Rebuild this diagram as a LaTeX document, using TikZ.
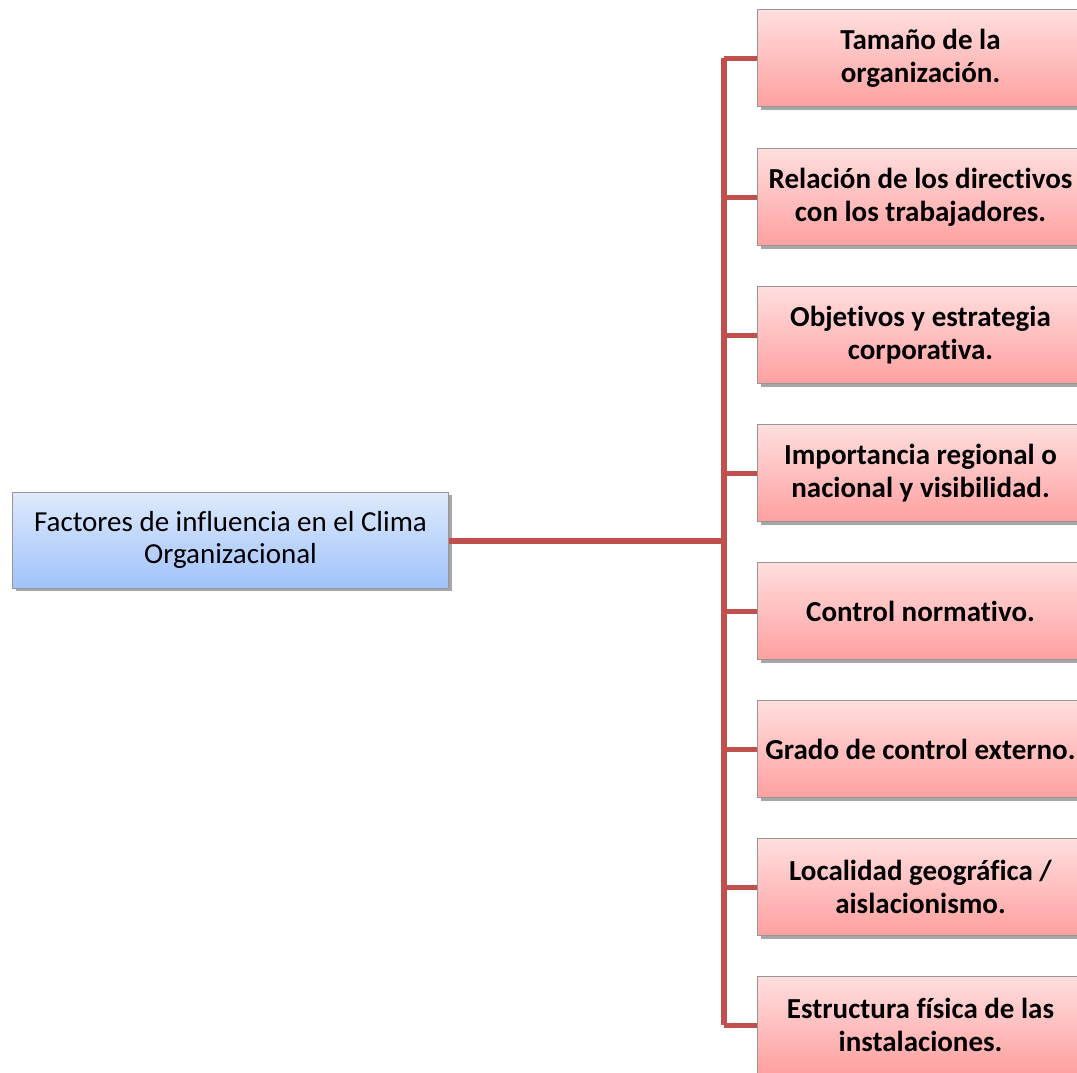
\documentclass[tikz,border=0pt]{standalone}
\usepackage{fontspec}
\setmainfont{Carlito}[Ligatures=NoCommon]
\usetikzlibrary{shadows}
\definecolor{conn}{RGB}{192,80,77}
\definecolor{pinkT}{RGB}{255,222,222}
\definecolor{pinkB}{RGB}{255,160,160}
\definecolor{blueT}{RGB}{222,234,252}
\definecolor{blueB}{RGB}{160,194,250}
\definecolor{bord}{RGB}{150,150,150}
\begin{document}
\begin{tikzpicture}[x=1pt,y=-1pt,
  rbox/.style={draw=bord,line width=1pt,top color=pinkT,bottom color=pinkB,
    minimum width=326pt,minimum height=97pt,align=center,inner sep=0pt,
    font=\fontsize{29}{33}\selectfont\bfseries,anchor=west,
    drop shadow={shadow xshift=3pt,shadow yshift=-3pt,fill=black,opacity=0.35}},
  lbox/.style={draw=bord,line width=1pt,top color=blueT,bottom color=blueB,
    minimum width=436pt,minimum height=96pt,align=center,inner sep=0pt,
    font=\fontsize{29}{32}\selectfont,anchor=west,
    drop shadow={shadow xshift=3pt,shadow yshift=-3pt,fill=black,opacity=0.35}},
  link/.style={draw=conn,line width=6pt,line join=round},
  branch/.style={draw=conn,line width=5pt}]
\useasboundingbox (0,0) rectangle (1077,1072);
\begin{scope}
\clip (0,0) rectangle (1077,1072);
\node[lbox] (root) at (12,540) {Factores de influencia en el Clima\\Organizacional};
\node[rbox] (b1) at (757,58) {Tamaño de la\\organización.};
\node[rbox] (b2) at (757,197) {Relación de los directivos\\con los trabajadores.};
\node[rbox] (b3) at (757,335) {Objetivos y estrategia\\corporativa.};
\node[rbox] (b4) at (757,473) {Importancia regional o\\nacional y visibilidad.};
\node[rbox] (b5) at (757,611) {Control normativo.};
\node[rbox] (b6) at (757,749) {Grado de control externo.};
\node[rbox] (b7) at (757,887) {Localidad geográfica /\\aislacionismo.};
\node[rbox] (b8) at (757,1025) {Estructura física de las\\instalaciones.};
\coordinate (j) at (724,541);
\end{scope}
\draw[link] (root.east |- j) -- (j);
\foreach \i in {1,...,8} {
  \draw[branch] (b\i.west) -- (j |- b\i.west);
}
\draw[link] (j |- b1.west) -- (j |- b8.west);
\end{tikzpicture}
\end{document}
